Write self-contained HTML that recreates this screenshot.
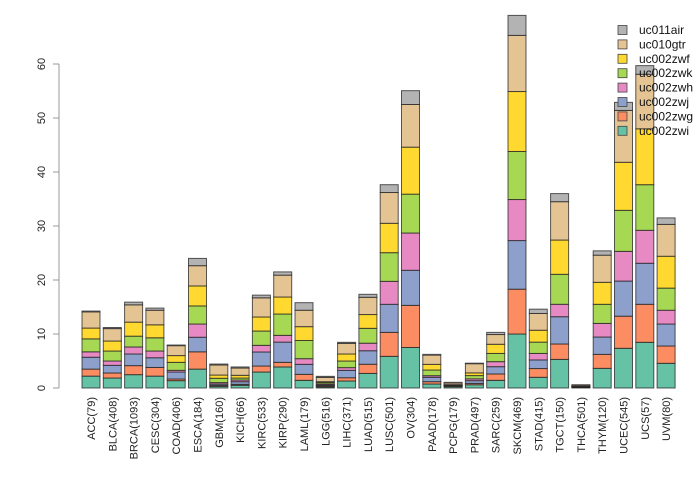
<!DOCTYPE html>
<html><head><meta charset="utf-8"><style>
body{margin:0;background:#fff;}
svg{display:block;font-family:"Liberation Sans",sans-serif;}
</style></head><body>
<svg id="chart" width="700" height="480"></svg>
<script>
const categories=["ACC(79)","BLCA(408)","BRCA(1093)","CESC(304)","COAD(406)","ESCA(184)","GBM(160)","KICH(66)","KIRC(533)","KIRP(290)","LAML(179)","LGG(516)","LIHC(371)","LUAD(515)","LUSC(501)","OV(304)","PAAD(178)","PCPG(179)","PRAD(497)","SARC(259)","SKCM(469)","STAD(415)","TGCT(150)","THCA(501)","THYM(120)","UCEC(545)","UCS(57)","UVM(80)"];
const seriesNames=["uc002zwi","uc002zwg","uc002zwj","uc002zwh","uc002zwk","uc002zwf","uc010gtr","uc011air"];
const zwi=[2.2,1.85,2.47,2.2,1.36,3.5,0.3,0.5,2.96,3.9,1.42,0.2,1.3,2.7,5.86,7.5,0.74,0.25,0.6,1.42,10,1.98,5.3,0.1,3.64,7.35,8.46,4.57];
const zwg=[1.3,0.93,1.67,1.6,0.31,3.2,0.2,0.18,1.11,0.85,1.11,0.17,0.6,1.7,4.44,7.8,0.43,0.12,0.25,1.18,8.3,1.62,2.85,0.05,2.59,5.95,7.04,3.21];
const zwj=[2.2,1.42,2.16,1.8,1.29,2.7,0.24,0.49,2.6,3.75,1.85,0.18,1.37,2.5,5.2,6.5,0.81,0.06,0.51,1.35,9,1.6,5.05,0.05,3.21,6.5,7.6,4.07];
const zwh=[1.0,0.8,1.3,1.25,0.31,2.45,0.26,0.31,1.23,1.25,1.05,0.19,0.5,1.4,4.25,6.9,0.3,0.07,0.34,0.93,7.6,1.2,2.3,0.05,2.52,5.5,6.1,2.55];
const zwk=[2.4,1.85,2.0,2.45,1.48,3.35,0.8,0.37,2.65,3.95,3.37,0.26,1.23,2.75,5.31,7.2,1.05,0.05,0.6,1.52,8.9,2.1,5.55,0.05,3.54,7.6,8.45,4.1];
const zwf=[2.0,1.85,2.6,2.4,1.25,3.7,0.6,0.5,2.6,3.15,2.56,0.17,1.3,2.55,5.44,8.7,1.05,0.07,0.5,1.7,11.1,2.2,6.35,0.05,4.07,8.9,10.35,5.9];
const gtr=[3.0,2.3,3.2,2.7,1.84,3.75,1.86,1.35,3.55,4.05,3.04,0.8,1.97,3.2,5.7,7.9,1.72,0.31,1.7,1.8,10.4,3.1,7.1,0.2,5.03,9.6,10.1,5.9];
const air=[0.15,0.2,0.5,0.4,0.12,1.35,0.18,0.2,0.5,0.6,1.4,0.19,0.19,0.55,1.45,2.56,0.13,0.12,0.1,0.4,3.7,0.8,1.5,0.05,0.8,1.5,1.6,1.2];
const yTicks=[0,10,20,30,40,50,60];
const series=[zwi,zwg,zwj,zwh,zwk,zwf,gtr,air];
const colors=["#66c2a5","#fc8d62","#8da0cb","#e78ac3","#a6d854","#ffd92f","#e5c494","#b3b3b3"];
const NS="http://www.w3.org/2000/svg";
const svg=document.getElementById('chart');
const y0=388,pxPer=5.4;
function yS(v){return y0-v*pxPer;}
function xS(i){return 82+i*21.3;}
const bw=18;
function mk(t,a){const e=document.createElementNS(NS,t);for(const k in a)e.setAttribute(k,a[k]);return e;}
const ax=mk('g',{});


svg.appendChild(ax);
ax.appendChild(mk('line',{x1:59,x2:59,y1:yS(60),y2:yS(0),stroke:'#999','stroke-width':1}));
yTicks.forEach(t=>{
  ax.appendChild(mk('line',{x1:53,x2:59,y1:yS(t),y2:yS(t),stroke:'#999','stroke-width':1}));
  const tx=mk('text',{x:0,y:0,'font-size':11,fill:'#222','text-anchor':'middle',transform:`translate(45,${yS(t)}) rotate(-90)`});
  tx.textContent=t;
  
  
  ax.appendChild(tx);
});
categories.forEach((c,i)=>{
  const g=mk('g',{});
  
  
  svg.appendChild(g);
  let cum=0;
  series.forEach((s,j)=>{
    const v=s[i];
    const r=mk('rect',{x:xS(i),y:yS(cum+v),width:bw,height:v*pxPer,fill:colors[j],stroke:'#222','stroke-opacity':0.75,'stroke-width':1});
    
    
    g.appendChild(r);
    cum+=v;
  });
  const tx=mk('text',{x:0,y:0,'font-size':11,fill:'#222','text-anchor':'end',transform:`translate(${xS(i)+bw/2+4},397) rotate(-90)`});
  tx.textContent=c;
  
  
  svg.appendChild(tx);
});
const lg=mk('g',{});


svg.appendChild(lg);
for(let k=7;k>=0;k--){
  const row=7-k;
  const cy=30+row*14.4;
  const r=mk('rect',{x:618,y:cy-4.5,width:9,height:9,fill:colors[k],stroke:'#444','stroke-width':0.8});
  
  
  lg.appendChild(r);
  const t=mk('text',{x:639,y:cy+4,'font-size':12,fill:'#111'});
  t.textContent=seriesNames[k];
  
  
  lg.appendChild(t);
}
</script>
</body></html>
